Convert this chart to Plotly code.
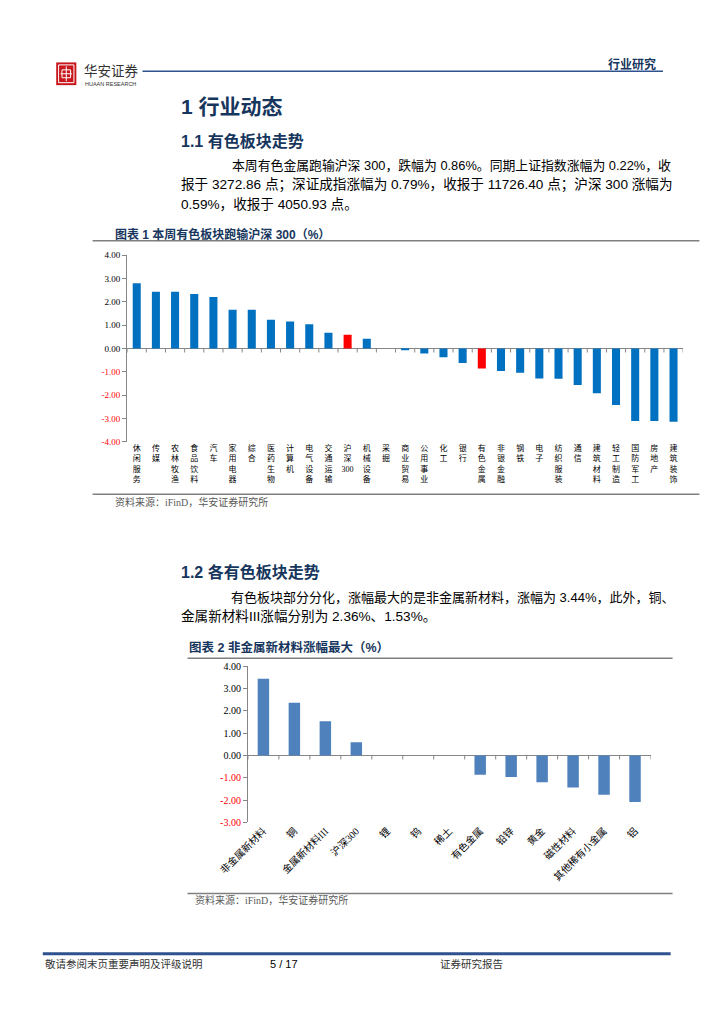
import plotly.graph_objects as go

W, H = 724, 1024

# ---------------- data ----------------
cats1 = ["休闲服务", "传媒", "农林牧渔", "食品饮料", "汽车", "家用电器", "综合", "医药生物",
         "计算机", "电气设备", "交通运输", "沪深300", "机械设备", "采掘", "商业贸易", "公用事业",
         "化工", "银行", "有色金属", "非银金融", "钢铁", "电子", "纺织服装", "通信",
         "建筑材料", "轻工制造", "国防军工", "房地产", "建筑装饰"]
vals1 = [2.80, 2.43, 2.43, 2.34, 2.21, 1.66, 1.66, 1.23,
         1.16, 1.04, 0.68, 0.59, 0.42, 0.00, -0.06, -0.21,
         -0.37, -0.62, -0.86, -0.96, -1.04, -1.28, -1.29, -1.56,
         -1.91, -2.42, -3.10, -3.10, -3.14]
highlight1 = ["沪深300", "有色金属"]
yticks1 = [4, 3, 2, 1, 0, -1, -2, -3, -4]

cats2 = ["非金属新材料", "铜", "金属新材料III", "沪深300", "锂", "钨", "稀土", "有色金属",
         "铅锌", "黄金", "磁性材料", "其他稀有小金属", "铝"]
vals2 = [3.44, 2.36, 1.53, 0.59, 0.00, 0.00, 0.00, -0.86,
         -0.96, -1.20, -1.43, -1.76, -2.09]
yticks2 = [4, 3, 2, 1, 0, -1, -2, -3]

# ---------------- style ----------------
BLUE1 = "#0070C0"
RED = "#FF0000"
BLUE2 = "#4F81BD"
AXIS = "#868686"
NAVY = "#17365D"
SERIF = "Liberation Serif, Noto Sans CJK SC"
CJK = "Noto Sans CJK SC"
SANSB = "Liberation Sans, Noto Sans CJK SC"


def px(x):
    return x / W


def py(y):
    return 1 - y / H


P1 = dict(l=93, r=673, t=244, b=433)
P2 = dict(l=219, r=639, t=660, b=818)


def stack(label):
    tokens, buf = [], ""
    for ch in label:
        if ch.isascii():
            buf += ch
        else:
            if buf:
                tokens.append(buf)
                buf = ""
            tokens.append(ch)
    if buf:
        tokens.append(buf)
    return "<br>".join(tokens)


def yticktext(vals):
    out = []
    for v in vals:
        s = f"{v:.2f}"
        if v < 0:
            s = f'<span style="color:{RED}">{s}</span>'
        out.append(s)
    return out


fig = go.Figure()
fig.add_bar(x=cats1, y=vals1, xaxis="x", yaxis="y", width=0.42,
            marker=dict(color=[RED if c in highlight1 else BLUE1 for c in cats1], line=dict(width=0)),
            hoverinfo="x+y")
fig.add_bar(x=cats2, y=vals2, xaxis="x2", yaxis="y2", width=0.37,
            marker=dict(color=BLUE2, line=dict(width=0)), hoverinfo="x+y")

shapes = []
annotations = []


def hline(x0, x1, y, color, width):
    shapes.append(dict(type="line", xref="paper", yref="paper", x0=px(x0), x1=px(x1),
                       y0=py(y), y1=py(y), line=dict(color=color, width=width)))


def txt(x, y, s, size, color="#000000", family=CJK, xanchor="left"):
    annotations.append(dict(x=px(x), y=py(y), xref="paper", yref="paper", text=s,
                            showarrow=False, xanchor=xanchor, yanchor="middle",
                            font=dict(size=size, color=color, family=family)))


def zero_ticks(cats, yt, xref, yref, plot):
    tl = 4 * (max(yt) - min(yt)) / (plot["b"] - plot["t"])
    for k in range(len(cats) + 1):
        shapes.append(dict(type="line", xref=xref, yref=yref, x0=k - 0.5, x1=k - 0.5,
                           y0=0, y1=-tl, line=dict(color=AXIS, width=1)))


zero_ticks(cats1, yticks1, "x", "y", P1)
zero_ticks(cats2, yticks2, "x2", "y2", P2)

# ---------------- header ----------------
shapes.append(dict(type="rect", xref="paper", yref="paper", x0=px(19), x1=px(40), y0=py(72), y1=py(49),
                   fillcolor="#C8161D", line=dict(width=0)))
shapes.append(dict(type="rect", xref="paper", yref="paper", x0=px(21.5), x1=px(37.5), y0=py(69.5), y1=py(51.5),
                   fillcolor="rgba(0,0,0,0)", line=dict(color="white", width=1)))
shapes.append(dict(type="rect", xref="paper", yref="paper", x0=px(25), x1=px(34), y0=py(64.5), y1=py(56.5),
                   fillcolor="rgba(0,0,0,0)", line=dict(color="white", width=1)))
shapes.append(dict(type="line", xref="paper", yref="paper", x0=px(29.5), x1=px(29.5), y0=py(68), y1=py(53),
                   line=dict(color="white", width=1)))
shapes.append(dict(type="line", xref="paper", yref="paper", x0=px(23.5), x1=px(35.5), y0=py(60.5), y1=py(60.5),
                   line=dict(color="white", width=1)))
txt(46, 57, "华安证券", 13.5, "#333333")
txt(47, 70.5, "HUAAN RESEARCH", 5.5, "#333333", "Liberation Sans")
hline(109, 652, 58, "#2F528F", 1.5)
txt(647, 51, "<b>行业研究</b>", 12, NAVY, SANSB, "right")

# ---------------- section 1 ----------------
txt(147, 94, "<b>1 行业动态</b>", 21, NAVY, SANSB)
txt(147, 128, "<b>1.1 有色板块走势</b>", 16, NAVY, SANSB)
txt(200, 153, "本周有色金属跑输沪深 300，跌幅为 0.86%。同期上证指数涨幅为 0.22%，收", 12.85, "#000000", SANSB)
txt(147, 173, "报于 3272.86 点；深证成指涨幅为 0.79%，收报于 11726.40 点；沪深 300 涨幅为", 13.6, "#000000", SANSB)
txt(147, 193, "0.59%，收报于 4050.93 点。", 13.6, "#000000", SANSB)

txt(78, 223, "<b>图表 1 本周有色板块跑输沪深 300（%）</b>", 12, NAVY, SANSB)
hline(57, 690, 229.5, "#7F7F7F", 1.5)
hline(57, 690, 486, "#7F7F7F", 1.5)
txt(78, 494, "资料来源：iFinD，华安证券研究所", 10, "#595959", SERIF)

# ---------------- section 2 ----------------
txt(147, 565, "<b>1.2 各有色板块走势</b>", 16, NAVY, SANSB)
txt(199, 590, "有色板块部分分化，涨幅最大的是非金属新材料，涨幅为 3.44%，此外，铜、", 13, "#000000", SANSB)
txt(147, 610, "金属新材料III涨幅分别为 2.36%、1.53%。", 13.6, "#000000", SANSB)

txt(155, 641, "<b>图表 2 非金属新材料涨幅最大（%）</b>", 12.5, NAVY, SANSB)
hline(156, 662, 652, "#7F7F7F", 1.5)
hline(156, 662, 890, "#7F7F7F", 1.5)
txt(162, 896, "资料来源：iFinD，华安证券研究所", 10, "#595959", SERIF)

# ---------------- footer ----------------
hline(5, 660, 951, "#2F528F", 3)
txt(5, 961, "敬请参阅末页重要声明及评级说明", 10.5, "#333333")
txt(257, 961, "5 / 17", 11, "#000000", "Liberation Sans", "center")
txt(417, 961, "证券研究报告", 10.5, "#333333")

axis_common = dict(showgrid=False, fixedrange=True)

fig.update_layout(
    width=W, height=H, autosize=False,
    margin=dict(l=0, r=0, t=0, b=0),
    paper_bgcolor="white", plot_bgcolor="rgba(0,0,0,0)",
    showlegend=False, barmode="group",
    xaxis=dict(domain=[px(P1["l"]), px(P1["r"])], anchor="y", type="category",
               range=[-0.5, len(cats1) - 0.5], tickmode="array", tickvals=cats1,
               ticktext=[stack(c) for c in cats1], tickangle=0, ticks="", showline=False,
               zeroline=False, tickfont=dict(size=8, family=SERIF, color="#000000"), **axis_common),
    yaxis=dict(domain=[py(P1["b"]), py(P1["t"])], anchor="x", range=[min(yticks1), max(yticks1)],
               tickmode="array", tickvals=yticks1, ticktext=yticktext(yticks1),
               showline=True, linecolor=AXIS, linewidth=1, ticks="outside", ticklen=4, tickcolor=AXIS,
               zeroline=True, zerolinecolor=AXIS, zerolinewidth=1,
               tickfont=dict(size=9, family=SERIF, color="#000000"), **axis_common),
    xaxis2=dict(domain=[px(P2["l"]), px(P2["r"])], anchor="y2", type="category",
                range=[-0.5, len(cats2) - 0.5], tickmode="array", tickvals=cats2,
                ticktext=cats2, tickangle=-45, ticks="", showline=False, zeroline=False,
                tickfont=dict(size=10, family=SERIF, color="#000000"), **axis_common),
    yaxis2=dict(domain=[py(P2["b"]), py(P2["t"])], anchor="x2", range=[min(yticks2), max(yticks2)],
                tickmode="array", tickvals=yticks2, ticktext=yticktext(yticks2),
                showline=True, linecolor=AXIS, linewidth=1, ticks="outside", ticklen=4, tickcolor=AXIS,
                zeroline=True, zerolinecolor=AXIS, zerolinewidth=1,
                tickfont=dict(size=10, family=SERIF, color="#000000"), **axis_common),
    shapes=shapes,
    annotations=annotations,
)

fig.write_html("out.html")
